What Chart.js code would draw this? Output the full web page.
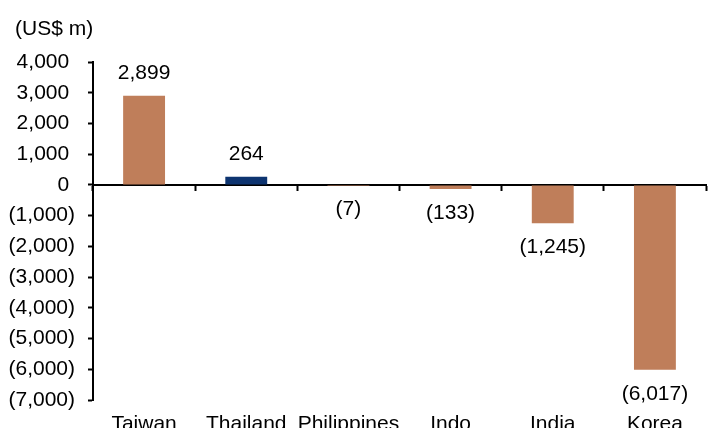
<!DOCTYPE html>
<html>
<head>
<meta charset="utf-8">
<script src="https://cdn.jsdelivr.net/npm/chart.js@4"></script>
<style>
  html, body { margin: 0; padding: 0; background: #fff; overflow: hidden; }
  .wrap { width: 716px; height: 440px; position: relative; }
</style>
</head>
<body>
<div class="wrap"><canvas id="chartFlows"></canvas></div>
<script>
const categories = ["Taiwan", "Thailand", "Philippines", "Indo", "India", "Korea"];
const flows = [2899, 264, -7, -133, -1245, -6017];
const barColors = ["#bf7e5a", "#0d3470", "#bf7e5a", "#bf7e5a", "#bf7e5a", "#bf7e5a"];
const unitLabel = "(US$ m)";
const yMin = -7000;
const yMax = 4000;
const yStep = 1000;

const FONT = { family: "'Liberation Sans', Arial, sans-serif", size: 21 };

// 2,899 / (1,245) style
function fmt(v) {
  const s = Math.abs(v).toLocaleString("en-US");
  return v < 0 ? `(${s})` : s;
}

// value labels above / below each bar, plus the unit note top-left
const barLabels = {
  id: "barLabels",
  afterDatasetsDraw(chart) {
    const ctx = chart.ctx;
    const meta = chart.getDatasetMeta(0);
    ctx.save();
    ctx.font = `${FONT.size}px ${FONT.family}`;
    ctx.fillStyle = "#000";
    ctx.textAlign = "center";
    ctx.textBaseline = "middle";
    meta.data.forEach((bar, i) => {
      const v = flows[i];
      const y = v >= 0 ? bar.y - 23 : bar.y + 24;
      ctx.fillText(fmt(v), bar.x, y);
    });
    ctx.textAlign = "left";
    ctx.fillText(unitLabel, 15, 29);
    ctx.restore();
  }
};

const ctx = document.getElementById("chartFlows").getContext("2d");

new Chart(ctx, {
  type: "bar",
  data: {
    labels: categories,
    datasets: [
      {
        data: flows,
        backgroundColor: barColors,
        borderWidth: 0,
        xAxisID: "x",
        categoryPercentage: 1,
        barPercentage: 0.41
      }
    ]
  },
  options: {
    responsive: true,
    maintainAspectRatio: false,
    animation: false,
    layout: { padding: { left: 0, right: 10, top: 62, bottom: 0 } },
    plugins: {
      legend: { display: false },
      tooltip: { enabled: false },
      title: { display: false }
    },
    scales: {
      x: {
        type: "category",
        position: { y: 0 },
        offset: true,
        ticks: { display: false },
        grid: {
          display: true,
          offset: true,
          drawOnChartArea: false,
          drawTicks: true,
          tickLength: 5,
          tickWidth: 2,
          tickColor: "#000",
          color: "#000"
        },
        border: { display: true, color: "#000", width: 2 }
      },
      x2: {
        type: "category",
        labels: categories,
        position: "bottom",
        offset: true,
        ticks: { color: "#000", font: FONT, padding: 12, maxRotation: 0, autoSkip: false },
        grid: { display: false, drawTicks: false },
        border: { display: false },
        afterFit: (scale) => { scale.height = 40; }
      },
      y: {
        min: yMin,
        max: yMax,
        ticks: {
          stepSize: yStep,
          color: "#000",
          font: FONT,
          padding: 13,
          // positives keep a trailing space so the digits line up with the bracketed negatives
          callback: (v) => (v < 0 ? fmt(v) : fmt(v) + " ")
        },
        grid: {
          display: true,
          drawOnChartArea: false,
          drawTicks: true,
          tickLength: 5,
          tickWidth: 2,
          tickColor: "#000",
          color: "#000"
        },
        border: { display: true, color: "#000", width: 2 },
        afterFit: (scale) => { scale.width = 93; }
      }
    }
  },
  plugins: [barLabels]
});
</script>
</body>
</html>
